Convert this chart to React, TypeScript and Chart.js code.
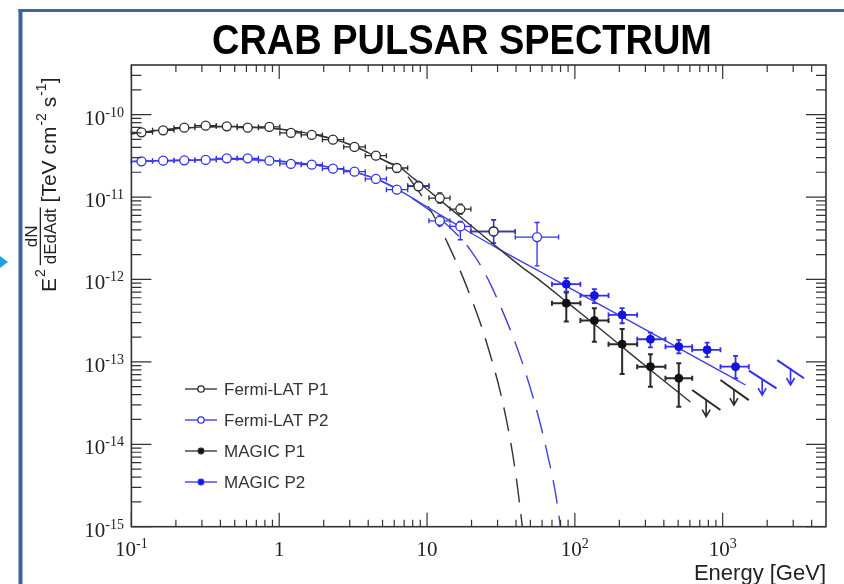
import React, { useEffect, useRef } from 'react';
import { Chart, registerables } from 'chart.js';
Chart.register(...registerables);

// ---------- axes ----------
const X_MIN = 0.1;
const X_MAX = 5000;
const Y_MIN = 1e-15;
const Y_MAX = 4e-10;
const X_MAJOR = [0.1, 1, 10, 100, 1000];
const X_LABEL_BASE = ['10', '1', '10', '10', '10'];
const X_LABEL_EXP = ['-1', '', '', '2', '3'];
const Y_MAJOR = [1e-10, 1e-11, 1e-12, 1e-13, 1e-14, 1e-15];
const Y_LABEL_EXP = ['-10', '-11', '-12', '-13', '-14', '-15'];
const MINOR_STEPS = [2, 3, 4, 5, 6, 7, 8, 9];

// ---------- Fermi-LAT ----------
const FERMI_BIN_EDGES = [0.1, 0.139, 0.194, 0.269, 0.375, 0.52, 0.724, 1.01, 1.41, 1.96, 2.73, 3.82, 5.31, 7.4, 10.3, 14.3, 19.8, 39.5, 77.6];
const FERMI_P1_E = [0.117, 0.164, 0.228, 0.318, 0.442, 0.612, 0.858, 1.2, 1.66, 2.31, 3.23, 4.51, 6.25, 8.75, 12.2, 16.8, 28.2];
const FERMI_P1_F = [6.09e-11, 6.44e-11, 6.95e-11, 7.35e-11, 7.21e-11, 6.95e-11, 7.09e-11, 6.0e-11, 5.67e-11, 4.97e-11, 4.05e-11, 3.18e-11, 2.25e-11, 1.35e-11, 9.72e-12, 7.15e-12, 3.82e-12];
const FERMI_P1_LO = [null, null, null, null, null, null, null, null, null, null, null, null, 2.07e-11, 1.21e-11, 8.45e-12, 6.22e-12, 2.76e-12];
const FERMI_P1_HI = [null, null, null, null, null, null, null, null, null, null, null, null, 2.45e-11, 1.51e-11, 1.12e-11, 8.22e-12, 5.3e-12];

const FERMI_P2_E = [0.117, 0.164, 0.228, 0.318, 0.442, 0.612, 0.858, 1.2, 1.66, 2.31, 3.23, 4.51, 6.25, 8.75, 12.2, 16.8, 28.2, 55.5];
const FERMI_P2_F = [2.71e-11, 2.76e-11, 2.79e-11, 2.82e-11, 2.95e-11, 2.95e-11, 2.76e-11, 2.52e-11, 2.47e-11, 2.21e-11, 2.03e-11, 1.66e-11, 1.23e-11, 1.37e-11, 5.15e-12, 4.4e-12, 3.82e-12, 3.27e-12];
const FERMI_P2_LO = [null, null, null, null, null, null, null, null, null, null, null, null, 1.13e-11, 1.23e-11, 4.48e-12, 3.03e-12, 2.76e-12, 1.46e-12];
const FERMI_P2_HI = [null, null, null, null, null, null, null, null, null, null, null, null, 1.34e-11, 1.53e-11, 5.92e-12, 5.06e-12, 5.3e-12, 4.91e-12];

// ---------- MAGIC ----------
const MAGIC_BIN_EDGES = [70, 109, 169, 264, 410, 622, 966, 1503];
const MAGIC_P1_E = [87.5, 135.5, 208.9, 324.5, 504.6];
const MAGIC_P1_F = [5.15e-13, 3.17e-13, 1.64e-13, 8.75e-14, 6.32e-14];
const MAGIC_P1_LO = [3.08e-13, 1.76e-13, 7.13e-14, 5.0e-14, 2.86e-14];
const MAGIC_P1_HI = [6.93e-13, 4.48e-13, 2.51e-13, 1.24e-13, 9.62e-14];

const MAGIC_P2_E = [87.5, 135.5, 208.9, 324.5, 504.6, 785, 1222];
const MAGIC_P2_F = [8.77e-13, 6.37e-13, 3.71e-13, 1.88e-13, 1.53e-13, 1.4e-13, 8.75e-14];
const MAGIC_P2_LO = [7.13e-13, 5.15e-13, 2.94e-13, 1.5e-13, 1.27e-13, 1.14e-13, 6.32e-14];
const MAGIC_P2_HI = [1.04e-12, 7.62e-13, 4.48e-13, 2.26e-13, 1.85e-13, 1.71e-13, 1.18e-13];

// upper limits: arrow energy, arrow top, arrow tip, segment ends
const UL_P1_E = [773, 1191];
const UL_P1_TOP = [3.44e-14, 4.56e-14];
const UL_P1_TIP = [2.16e-14, 2.99e-14];
const UL_P1_SEG_E1 = [622, 966];
const UL_P1_SEG_E2 = [966, 1503];
const UL_P1_SEG_F1 = [4.56e-14, 6.03e-14];
const UL_P1_SEG_F2 = [2.61e-14, 3.44e-14];

const UL_P2_E = [1850, 2877];
const UL_P2_TOP = [6.2e-14, 8.43e-14];
const UL_P2_TIP = [3.96e-14, 5.24e-14];
const UL_P2_SEG_E1 = [1503, 2336];
const UL_P2_SEG_E2 = [2312, 3548];
const UL_P2_SEG_F1 = [7.82e-14, 1.05e-13];
const UL_P2_SEG_F2 = [4.78e-14, 6.32e-14];

// ---------- fit curves ----------
const FIT_P1_E = [0.1, 0.156, 0.249, 0.398, 0.635, 1.014, 1.62, 2.39, 3.27, 4.46, 5.63, 6.59, 7.7, 9.0, 12.29, 16.78, 22.92, 31.3, 42.76, 58.4, 93.2, 148.8, 237.6, 379.2, 605.3];
const FIT_P1_F = [5.87e-11, 6.48e-11, 6.95e-11, 7.15e-11, 7.05e-11, 6.66e-11, 5.87e-11, 4.97e-11, 4.08e-11, 3.13e-11, 2.57e-11, 2.27e-11, 1.81e-11, 1.45e-11, 9.14e-12, 5.76e-12, 3.63e-12, 2.29e-12, 1.46e-12, 9.62e-13, 4.91e-13, 2.51e-13, 1.26e-13, 6.37e-14, 3.26e-14];
const CUT_P1_E = [0.1, 0.156, 0.249, 0.398, 0.635, 1.014, 1.62, 2.39, 3.27, 4.46, 5.63, 6.59, 7.7, 9.0, 10.51, 12.29, 14.36, 16.78, 19.61, 22.92, 26.79, 31.31, 36.59, 40.17, 44.12, 46];
const CUT_P1_F = [5.87e-11, 6.48e-11, 6.95e-11, 7.15e-11, 7.05e-11, 6.66e-11, 5.87e-11, 4.97e-11, 4.08e-11, 3.13e-11, 2.57e-11, 2.27e-11, 1.62e-11, 1.1e-11, 7.01e-12, 4.24e-12, 2.35e-12, 1.27e-12, 6.32e-13, 2.97e-13, 1.21e-13, 4.31e-14, 1.12e-14, 3.88e-15, 1e-15, 5e-16];
const FIT_P2_E = [0.1, 0.156, 0.249, 0.398, 0.635, 1.014, 1.62, 2.58, 3.53, 4.82, 6.59, 9.0, 12.29, 16.78, 31.3, 58.4, 108.9, 203.3, 379.2, 707.5, 1427];
const FIT_P2_F = [2.69e-11, 2.76e-11, 2.8e-11, 2.88e-11, 2.84e-11, 2.72e-11, 2.5e-11, 2.18e-11, 1.92e-11, 1.58e-11, 1.19e-11, 8.52e-12, 6.09e-12, 4.36e-12, 2.29e-12, 1.24e-12, 6.68e-13, 3.61e-13, 1.95e-13, 1.05e-13, 5.24e-14];
const CUT_P2_E = [0.1, 0.156, 0.249, 0.398, 0.635, 1.014, 1.62, 2.58, 3.53, 4.82, 6.59, 9.0, 12.29, 16.78, 19.61, 22.92, 26.79, 31.31, 36.59, 42.76, 49.96, 58.4, 66.16, 73.79, 79.78, 83];
const CUT_P2_F = [2.69e-11, 2.76e-11, 2.8e-11, 2.88e-11, 2.84e-11, 2.72e-11, 2.5e-11, 2.18e-11, 1.92e-11, 1.58e-11, 1.19e-11, 8.29e-12, 5.45e-12, 3.2e-12, 2.29e-12, 1.5e-12, 8.84e-13, 4.78e-13, 2.44e-13, 1.15e-13, 4.82e-14, 1.76e-14, 6.8e-15, 2.62e-15, 1e-15, 5e-16];

const BLACK = '#2a2a2a';
const BLUE = '#3030e8';
const BLUE_FILL = '#1414e0';
const SANS = '"Liberation Sans", Arial, Helvetica, sans-serif';
const SERIF = '"Liberation Serif", "Times New Roman", serif';

const pts = (xs: number[], ys: number[]) => xs.map((x, i) => ({ x, y: ys[i] }));

export default function App() {
  const ref = useRef<HTMLCanvasElement>(null);
  useEffect(() => {
    const canvas = ref.current!;

    const drawErrors = (chart: any, xs: number[], ys: number[], xlo: number[], xhi: number[], ylo: (number | null)[], yhi: (number | null)[], color: string, lw: number, cap: number) => {
      const ctx = chart.ctx;
      const sx = chart.scales.x, sy = chart.scales.y;
      ctx.save();
      ctx.strokeStyle = color;
      ctx.lineWidth = lw;
      for (let i = 0; i < xs.length; i++) {
        const px = sx.getPixelForValue(xs[i]);
        const py = sy.getPixelForValue(ys[i]);
        const x1 = sx.getPixelForValue(xlo[i]);
        const x2 = sx.getPixelForValue(xhi[i]);
        ctx.beginPath();
        ctx.moveTo(x1, py); ctx.lineTo(x2, py);
        ctx.moveTo(x1, py - cap); ctx.lineTo(x1, py + cap);
        ctx.moveTo(x2, py - cap); ctx.lineTo(x2, py + cap);
        ctx.stroke();
        const lo = ylo[i], hi = yhi[i];
        if (lo != null && hi != null) {
          const y1 = sy.getPixelForValue(lo);
          const y2 = sy.getPixelForValue(hi);
          ctx.beginPath();
          ctx.moveTo(px, y1); ctx.lineTo(px, y2);
          ctx.moveTo(px - cap, y1); ctx.lineTo(px + cap, y1);
          ctx.moveTo(px - cap, y2); ctx.lineTo(px + cap, y2);
          ctx.stroke();
        }
      }
      ctx.restore();
    };

    const drawULs = (chart: any, xs: number[], tops: number[], tips: number[], e1: number[], e2: number[], f1: number[], f2: number[], color: string) => {
      const ctx = chart.ctx;
      const sx = chart.scales.x, sy = chart.scales.y;
      ctx.save();
      ctx.strokeStyle = color;
      for (let i = 0; i < xs.length; i++) {
        ctx.lineWidth = 2;
        ctx.beginPath();
        ctx.moveTo(sx.getPixelForValue(e1[i]), sy.getPixelForValue(f1[i]));
        ctx.lineTo(sx.getPixelForValue(e2[i]), sy.getPixelForValue(f2[i]));
        ctx.stroke();
        const px = sx.getPixelForValue(xs[i]);
        const pt = sy.getPixelForValue(tops[i]);
        const pb = sy.getPixelForValue(tips[i]);
        ctx.lineWidth = 1.6;
        ctx.beginPath();
        ctx.moveTo(px, pt); ctx.lineTo(px, pb);
        ctx.moveTo(px - 4, pb - 7); ctx.lineTo(px, pb); ctx.lineTo(px + 4, pb - 7);
        ctx.stroke();
      }
      ctx.restore();
    };

    const supText = (ctx: CanvasRenderingContext2D, base: string, exp: string, x: number, baseY: number, align: 'center' | 'right', baseFont: string, supFont: string, supRise: number) => {
      ctx.font = baseFont;
      const bw = ctx.measureText(base).width;
      ctx.font = supFont;
      const ew = exp ? ctx.measureText(exp).width : 0;
      const total = bw + ew;
      const x0 = align === 'center' ? x - total / 2 : x - total;
      ctx.textAlign = 'left';
      ctx.textBaseline = 'alphabetic';
      ctx.font = baseFont;
      ctx.fillText(base, x0, baseY);
      if (exp) {
        ctx.font = supFont;
        ctx.fillText(exp, x0 + bw, baseY - supRise);
      }
    };

    const decor = {
      id: 'decor',
      beforeDraw(chart: any) {
        const ctx = chart.ctx as CanvasRenderingContext2D;
        ctx.save();
        ctx.fillStyle = '#ffffff';
        ctx.fillRect(0, 0, chart.width, chart.height);
        // card frame
        ctx.fillStyle = '#3d6598';
        ctx.fillRect(18.5, 9, 4, chart.height - 9);
        ctx.fillRect(18.5, 9, chart.width - 18.5, 3);
        // cyan pointer
        ctx.fillStyle = '#22a0e0';
        ctx.beginPath();
        ctx.moveTo(0, 256); ctx.lineTo(8, 262); ctx.lineTo(0, 268); ctx.closePath();
        ctx.fill();
        // title
        ctx.fillStyle = '#000';
        ctx.font = 'bold 42px "Liberation Sans Narrow", "Liberation Sans", Arial, sans-serif';
        const title = 'CRAB PULSAR SPECTRUM';
        const tw = ctx.measureText(title).width;
        ctx.save();
        ctx.translate(462, 54);
        ctx.scale(500 / tw, 1);
        ctx.textAlign = 'center';
        ctx.textBaseline = 'alphabetic';
        ctx.fillText(title, 0, 0);
        ctx.restore();

        // tick labels
        ctx.fillStyle = '#222';
        const sx = chart.scales.x, sy = chart.scales.y;
        Y_MAJOR.forEach((v, i) => {
          const py = sy.getPixelForValue(v);
          supText(ctx, '10', Y_LABEL_EXP[i], 124, py + 10, 'right', '21px ' + SERIF, '14px ' + SERIF, 8);
        });
        X_MAJOR.forEach((v, i) => {
          const px = sx.getPixelForValue(v);
          supText(ctx, X_LABEL_BASE[i], X_LABEL_EXP[i], px, 556, 'center', '21px ' + SERIF, '14px ' + SERIF, 8);
        });
        // x title
        ctx.font = '22px ' + SANS;
        ctx.textAlign = 'right';
        ctx.textBaseline = 'alphabetic';
        ctx.fillText('Energy [GeV]', 826, 580);

        // y title (rotated)
        ctx.save();
        ctx.translate(56, 292);
        ctx.rotate(-Math.PI / 2);
        ctx.textAlign = 'left';
        ctx.textBaseline = 'alphabetic';
        const main = '21px ' + SANS;
        const sup = '14px ' + SANS;
        const frac = '17px ' + SANS;
        let u = 0;
        ctx.font = main; ctx.fillText('E', u, 0); u += ctx.measureText('E').width + 1;
        ctx.font = sup; ctx.fillText('2', u, -11); u += ctx.measureText('2').width + 5;
        ctx.font = frac;
        const denW = ctx.measureText('dEdAdt').width;
        const numW = ctx.measureText('dN').width;
        ctx.fillText('dEdAdt', u, 0);
        ctx.fillText('dN', u + (denW - numW) / 2, -19);
        ctx.fillRect(u - 1, -16.3, denW + 2, 1.3);
        u += denW + 6;
        ctx.font = main; ctx.fillText('[TeV cm', u, 0); u += ctx.measureText('[TeV cm').width + 1;
        ctx.font = sup; ctx.fillText('-2', u, -10); u += ctx.measureText('-2').width;
        ctx.font = main; ctx.fillText(' s', u, 0); u += ctx.measureText(' s').width + 1;
        ctx.font = sup; ctx.fillText('-1', u, -10); u += ctx.measureText('-1').width;
        ctx.font = main; ctx.fillText(']', u, 0);
        ctx.restore();
        ctx.restore();
      },
      beforeDatasetsDraw(chart: any) {
        drawErrors(chart, FERMI_P1_E, FERMI_P1_F, FERMI_BIN_EDGES.slice(0, FERMI_P1_E.length), FERMI_BIN_EDGES.slice(1, FERMI_P1_E.length + 1), FERMI_P1_LO, FERMI_P1_HI, BLACK, 1.3, 2.5);
        drawErrors(chart, FERMI_P2_E, FERMI_P2_F, FERMI_BIN_EDGES.slice(0, FERMI_P2_E.length), FERMI_BIN_EDGES.slice(1, FERMI_P2_E.length + 1), FERMI_P2_LO, FERMI_P2_HI, BLUE, 1.3, 2.5);
        drawErrors(chart, MAGIC_P1_E, MAGIC_P1_F, MAGIC_BIN_EDGES.slice(0, MAGIC_P1_E.length), MAGIC_BIN_EDGES.slice(1, MAGIC_P1_E.length + 1), MAGIC_P1_LO, MAGIC_P1_HI, BLACK, 2, 2.5);
        drawErrors(chart, MAGIC_P2_E, MAGIC_P2_F, MAGIC_BIN_EDGES.slice(0, MAGIC_P2_E.length), MAGIC_BIN_EDGES.slice(1, MAGIC_P2_E.length + 1), MAGIC_P2_LO, MAGIC_P2_HI, BLUE, 1.8, 2.5);
        drawULs(chart, UL_P1_E, UL_P1_TOP, UL_P1_TIP, UL_P1_SEG_E1, UL_P1_SEG_E2, UL_P1_SEG_F1, UL_P1_SEG_F2, BLACK);
        drawULs(chart, UL_P2_E, UL_P2_TOP, UL_P2_TIP, UL_P2_SEG_E1, UL_P2_SEG_E2, UL_P2_SEG_F1, UL_P2_SEG_F2, BLUE);
      },
      afterDraw(chart: any) {
        const ctx = chart.ctx as CanvasRenderingContext2D;
        const { left, right, top, bottom } = chart.chartArea;
        const sx = chart.scales.x, sy = chart.scales.y;
        ctx.save();
        ctx.strokeStyle = '#333';
        ctx.lineWidth = 1.2;
        ctx.beginPath();
        X_MAJOR.forEach((d) => {
          const px = sx.getPixelForValue(d);
          ctx.moveTo(px, bottom); ctx.lineTo(px, bottom - 14);
          ctx.moveTo(px, top); ctx.lineTo(px, top + 14);
          MINOR_STEPS.forEach((k) => {
            const v = d * k;
            if (v >= X_MAX) return;
            const qx = sx.getPixelForValue(v);
            ctx.moveTo(qx, bottom); ctx.lineTo(qx, bottom - 7);
            ctx.moveTo(qx, top); ctx.lineTo(qx, top + 7);
          });
        });
        Y_MAJOR.forEach((d) => {
          const py = sy.getPixelForValue(d);
          ctx.moveTo(left, py); ctx.lineTo(left + 20, py);
          ctx.moveTo(right, py); ctx.lineTo(right - 20, py);
          MINOR_STEPS.forEach((k) => {
            const v = d * k;
            if (v >= Y_MAX) return;
            const qy = sy.getPixelForValue(v);
            ctx.moveTo(left, qy); ctx.lineTo(left + 10, qy);
            ctx.moveTo(right, qy); ctx.lineTo(right - 10, qy);
          });
        });
        ctx.stroke();
        ctx.lineWidth = 1.6;
        ctx.strokeRect(left, top, right - left, bottom - top);

        // legend
        const items = chart.data.datasets.filter((d: any) => d.inLegend);
        items.forEach((d: any, i: number) => {
          const y = 389 + i * 31;
          ctx.strokeStyle = d.borderColor;
          ctx.lineWidth = 1.3;
          ctx.beginPath();
          ctx.moveTo(185, y); ctx.lineTo(217, y);
          ctx.stroke();
          ctx.beginPath();
          ctx.arc(201, y, d.legendRadius, 0, Math.PI * 2);
          ctx.fillStyle = d.backgroundColor;
          ctx.fill();
          ctx.stroke();
          ctx.fillStyle = '#333';
          ctx.font = '17px ' + SANS;
          ctx.textAlign = 'left';
          ctx.textBaseline = 'middle';
          ctx.fillText(d.label, 224, y + 1);
        });
        ctx.restore();
      },
    };

    const chart = new Chart(canvas, {
      type: 'scatter',
      data: {
        datasets: [
          { label: 'Fermi-LAT P1', inLegend: true, legendRadius: 3.2, data: pts(FERMI_P1_E, FERMI_P1_F), pointRadius: 4.5, pointBorderWidth: 1.3, borderColor: BLACK, backgroundColor: '#ffffff', pointBackgroundColor: '#ffffff', pointBorderColor: BLACK, showLine: false },
          { label: 'Fermi-LAT P2', inLegend: true, legendRadius: 3.2, data: pts(FERMI_P2_E, FERMI_P2_F), pointRadius: 4.5, pointBorderWidth: 1.3, borderColor: BLUE, backgroundColor: '#ffffff', pointBackgroundColor: '#ffffff', pointBorderColor: BLUE, showLine: false },
          { label: 'MAGIC P1', inLegend: true, legendRadius: 2.8, data: pts(MAGIC_P1_E, MAGIC_P1_F), pointRadius: 4, pointBorderWidth: 1, borderColor: BLACK, backgroundColor: '#111111', pointBackgroundColor: '#111111', pointBorderColor: '#111111', showLine: false },
          { label: 'MAGIC P2', inLegend: true, legendRadius: 2.8, data: pts(MAGIC_P2_E, MAGIC_P2_F), pointRadius: 4, pointBorderWidth: 1, borderColor: BLUE, backgroundColor: BLUE_FILL, pointBackgroundColor: BLUE_FILL, pointBorderColor: BLUE_FILL, showLine: false },
          { type: 'line', label: 'P1 fit', data: pts(FIT_P1_E, FIT_P1_F), borderColor: '#333333', borderWidth: 1.4, pointRadius: 0, fill: false, cubicInterpolationMode: 'monotone', showLine: true },
          { type: 'line', label: 'P2 fit', data: pts(FIT_P2_E, FIT_P2_F), borderColor: '#4040e0', borderWidth: 1.4, pointRadius: 0, fill: false, cubicInterpolationMode: 'monotone', showLine: true },
          { type: 'line', label: 'P1 cutoff', data: pts(CUT_P1_E, CUT_P1_F), borderColor: '#333333', borderWidth: 1.4, borderDash: [24, 12], pointRadius: 0, fill: false, cubicInterpolationMode: 'monotone', showLine: true },
          { type: 'line', label: 'P2 cutoff', data: pts(CUT_P2_E, CUT_P2_F), borderColor: '#4040e0', borderWidth: 1.4, borderDash: [24, 12], pointRadius: 0, fill: false, cubicInterpolationMode: 'monotone', showLine: true },
        ] as any,
      },
      options: {
        responsive: false,
        animation: false,
        devicePixelRatio: 1,
        events: [],
        layout: { padding: { left: 131.4, right: 18, top: 65, bottom: 57.3 } },
        scales: {
          x: { type: 'logarithmic', min: X_MIN, max: X_MAX, display: false },
          y: { type: 'logarithmic', min: Y_MIN, max: Y_MAX, display: false },
        },
        plugins: { legend: { display: false }, tooltip: { enabled: false }, title: { display: false } },
      } as any,
      plugins: [decor],
    });
    return () => chart.destroy();
  }, []);

  return (
    <div style={{ position: 'fixed', left: 0, top: 0, width: 844, height: 584, background: '#fff' }}>
      <canvas ref={ref} width={844} height={584} style={{ display: 'block', width: 844, height: 584 }} />
    </div>
  );
}
